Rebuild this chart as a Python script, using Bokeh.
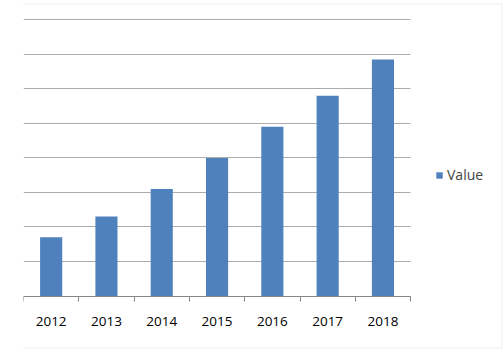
import numpy as np
from bokeh.plotting import figure
from bokeh.models import (FixedTicker, Range1d, BoxAnnotation, Legend, LegendItem,
                          ColumnDataSource)
from bokeh.embed import file_html
from bokeh.resources import INLINE

years = ["2012", "2013", "2014", "2015", "2016", "2017", "2018"]
values = [1.7, 2.3, 3.1, 4.0, 4.9, 5.8, 6.85]
grid_levels = [0, 1, 2, 3, 4, 5, 6, 7, 8]

FONT = "Open Sans"
GRID = "#acacac"

xs = np.arange(len(years)) + 0.5
src = ColumnDataSource(dict(x=xs, top=values, year=years))

p = figure(width=504, height=352, output_backend="svg", toolbar_location=None,
           x_range=Range1d(0, 8.698), y_range=Range1d(-1.636, 8.559),
           min_border_left=23, min_border_right=0, min_border_top=0,
           min_border_bottom=0)
p.outline_line_color = None
p.background_fill_color = "white"
p.border_fill_color = "white"

r = p.vbar(x="x", top="top", width=0.4, bottom=0, source=src,
           fill_color="#4f81bd", line_color=None)

# axes
p.yaxis.visible = False
xa = p.xaxis[0]
xa.fixed_location = 0
xa.bounds = (0, len(years))
xa.ticker = FixedTicker(ticks=list(xs), minor_ticks=list(np.arange(len(years) + 1)))
xa.major_label_overrides = {float(x): y for x, y in zip(xs, years)}
xa.major_tick_line_color = None
xa.major_tick_out = 0
xa.major_tick_in = 0
xa.minor_tick_in = 0
xa.minor_tick_out = 5
xa.minor_tick_line_color = "#868686"
xa.axis_line_color = "#868686"
xa.major_label_text_font = FONT
xa.major_label_text_font_size = "13.5px"
xa.major_label_text_color = "black"
xa.major_label_standoff = 16

p.xgrid.visible = False
p.ygrid.ticker = FixedTicker(ticks=grid_levels)
p.ygrid.grid_line_color = GRID
p.ygrid.cross_bounds = (0, len(years))

# chart border (top, right, bottom); left side falls outside the frame
p.add_layout(BoxAnnotation(left=-5, right=478.5, top=348.5, bottom=4.5,
                           left_units="screen", right_units="screen",
                           top_units="screen", bottom_units="screen",
                           fill_color=None, line_color="#bfbfbf", line_width=1))

legend = Legend(items=[LegendItem(label="Value", renderers=[r])],
                location=(412, 168), padding=0, margin=0,
                border_line_color=None, background_fill_alpha=0,
                glyph_width=8, glyph_height=8, label_standoff=4,
                label_text_font=FONT, label_text_font_size="14px",
                label_height=18)
p.add_layout(legend, "center")

open("out.html", "w").write(file_html(p, INLINE))
